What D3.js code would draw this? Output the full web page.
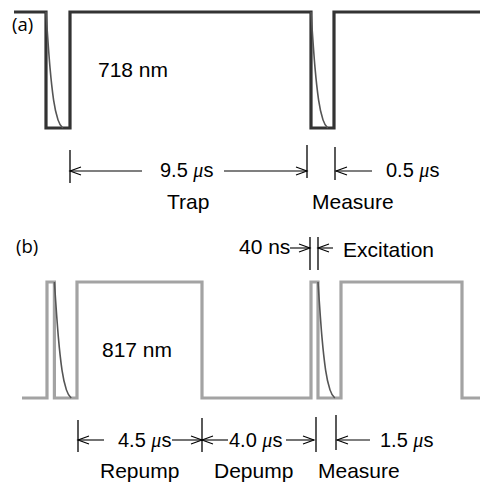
<!DOCTYPE html>
<html>
<head>
<meta charset="utf-8">
<script src="https://cdn.jsdelivr.net/npm/d3@7"></script>
<style>
  body { margin: 0; background: #fff; }
  text { font-family: "Liberation Sans", Arial, sans-serif; fill: #000; }
</style>
</head>
<body>
<div id="chart"></div>
<script>
// schematic time units (not to scale), 0..120 across the figure
const waveA = [[3.5, 1], [11.5, 1], [11.5, 0], [17.5, 0], [17.5, 1], [77.75, 1], [77.75, 0], [83.5, 0], [83.5, 1], [120, 1]];
const waveB = [[5.5, 0], [11.75, 0], [11.75, 1], [13.6, 1], [13.6, 0], [19.25, 0], [19.25, 1], [50.5, 1], [50.5, 0], [77.75, 0], [77.75, 1], [79.5, 1], [79.5, 0], [85.25, 0], [85.25, 1], [115.5, 1], [115.5, 0], [120, 0]];

// fluorescence decay shape: [offset, level]
const decay = [[0, 1], [1, 0.52], [1.9, 0.24], [3, 0.07], [4.2, 0]];
const decayStartsA = [11.5, 77.75];
const decayStartsB = [13.6, 79.5];

const width = 480;
const height = 485;

const x = d3.scaleLinear().domain([0, 120]).range([0, 480]);
const yA = d3.scaleLinear().domain([0, 1]).range([128, 12]);
const yB = d3.scaleLinear().domain([0, 1]).range([398, 282]);

const svg = d3.select("#chart").append("svg")
  .attr("width", width)
  .attr("height", height);

svg.append("rect").attr("width", width).attr("height", height).attr("fill", "#fff");

const lineA = d3.line().x((d) => x(d[0])).y((d) => yA(d[1]));
const lineB = d3.line().x((d) => x(d[0])).y((d) => yB(d[1]));

// decay curves
function drawDecay(starts, yScale) {
  const l = d3.line().x((d) => d[0]).y((d) => d[1]).curve(d3.curveMonotoneX);
  starts.forEach((s) => {
    const pts = decay.map((d) => [x(s + d[0]), yScale(d[1])]);
    svg.append("path")
      .attr("d", l(pts))
      .attr("fill", "none")
      .attr("stroke", "#555")
      .attr("stroke-width", 1.6);
  });
}

svg.append("path")
  .attr("d", lineA(waveA))
  .attr("fill", "none")
  .attr("stroke", "#333")
  .attr("stroke-width", 3.2)
  .attr("stroke-linejoin", "miter");
drawDecay(decayStartsA, yA);

svg.append("path")
  .attr("d", lineB(waveB))
  .attr("fill", "none")
  .attr("stroke", "#a3a3a3")
  .attr("stroke-width", 3.2)
  .attr("stroke-linejoin", "miter");
drawDecay(decayStartsB, yB);

// annotation helpers
function tick(px, y1, y2) {
  svg.append("line")
    .attr("x1", px).attr("x2", px).attr("y1", y1).attr("y2", y2)
    .attr("stroke", "#000").attr("stroke-width", 1.3);
}
function arrow(x1, x2, y) {
  const dir = x2 > x1 ? -1 : 1;
  svg.append("line")
    .attr("x1", x1).attr("x2", x2).attr("y1", y).attr("y2", y)
    .attr("stroke", "#000").attr("stroke-width", 1.1);
  svg.append("path")
    .attr("d", `M${x2 + dir * 11},${y - 4}L${x2},${y}L${x2 + dir * 11},${y + 4}`)
    .attr("fill", "none").attr("stroke", "#000").attr("stroke-width", 1.1);
}
function label(px, py, str, size) {
  return svg.append("text").attr("x", px).attr("y", py)
    .style("font-size", (size || 21) + "px").text(str);
}
function usLabel(px, py, num) {
  const t = svg.append("text").attr("x", px).attr("y", py).style("font-size", "20px");
  t.append("tspan").text(num + " ");
  t.append("tspan").style("font-family", "'Liberation Serif', serif").style("font-style", "italic").text("\u03bc");
  t.append("tspan").text("s");
}

// panel (a)
svg.append("text").attr("x", 12).attr("y", 31)
  .style("font-family", "'Open Sans', sans-serif").style("font-size", "18.5px").text("(a)");
label(98, 77, "718 nm");

tick(x(17.5), 150, 183);
tick(x(76.75), 145, 178);
tick(x(83.75), 147, 180);
arrow(142, x(17.5), 171);
arrow(224, x(76.75), 171);
arrow(372, x(83.75) + 1, 171);
usLabel(160, 177, "9.5");
usLabel(386, 177, "0.5");
label(167, 209, "Trap");
label(312, 209, "Measure");

// panel (b)
svg.append("text").attr("x", 16).attr("y", 253)
  .style("font-family", "'Open Sans', sans-serif").style("font-size", "18.5px").text("(b)");
label(102, 357, "817 nm");

label(239, 254, "40 ns");
tick(x(77.5), 237, 270);
tick(x(79.5), 237, 270);
arrow(290, x(77.5), 248);
arrow(333, x(79.5), 248);
label(343, 257, "Excitation");

tick(x(19.5), 420, 452);
tick(x(50.5), 418, 452);
tick(x(79), 417, 452);
tick(x(84), 415, 450);
arrow(104, x(19.5), 440);
arrow(172, x(50.5), 440);
arrow(228, x(50.5), 440);
arrow(286, x(79) - 2, 440);
arrow(370, x(84) + 1, 440);
usLabel(118, 447, "4.5");
usLabel(229, 447, "4.0");
usLabel(380, 447, "1.5");
label(100, 478, "Repump");
label(214, 478, "Depump");
label(318, 478, "Measure");
</script>
</body>
</html>
